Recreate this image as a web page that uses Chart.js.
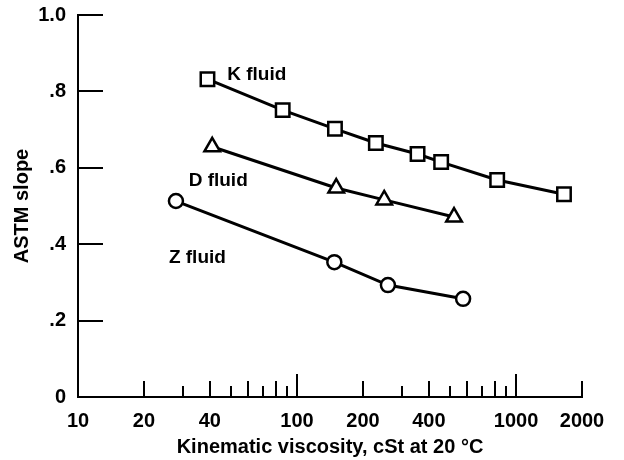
<!DOCTYPE html>
<html>
<head>
<meta charset="utf-8">
<script src="https://cdn.jsdelivr.net/npm/chart.js@4/dist/chart.umd.min.js"></script>
<style>
html,body{margin:0;padding:0;background:#fff;}
canvas{display:block;}
</style>
</head>
<body>
<canvas id="astmChart" width="624" height="460"></canvas>
<script>
var kViscosity=[39,86,149,229,355,455,820,1655];
var kSlope=[0.832,0.751,0.702,0.665,0.636,0.615,0.568,0.531];
var dViscosity=[41,151,250,521];
var dSlope=[0.655,0.547,0.516,0.471];
var zViscosity=[28,148,260,573];
var zSlope=[0.513,0.353,0.293,0.257];

var xTickLabels=[10,20,40,100,200,400,1000,2000];
var xTickMarks=[20,30,40,50,60,70,80,90,100,200,300,400,500,600,700,800,900,1000,2000];
var yTickLabels=[0,0.2,0.4,0.6,0.8,1.0];

var fluidNames=['K fluid','D fluid','Z fluid'];
var fluidNameAt=[[48,0.830],[32,0.552],[26,0.351]];

var fontFamily="'Liberation Sans', Arial, Helvetica, sans-serif";
Chart.defaults.font.family=fontFamily;
Chart.defaults.color='#000';

function fnPoints(xs,ys){
	var pts=[];
	for(var i=0;i<xs.length;i++){
		pts.push({x:xs[i],y:ys[i]});
	}
	return pts;
}

function fnSeries(label,xs,ys,style,radius){
	return {
		label:label,
		data:fnPoints(xs,ys),
		borderColor:'#000',
		borderWidth:3,
		pointStyle:style,
		pointRadius:radius,
		pointBackgroundColor:'#fff',
		pointBorderColor:'#000',
		pointBorderWidth:2.5,
		tension:0,
		clip:false
	};
}

//inside tick marks + curve labels
var paperTicks={
	id:'paperTicks',
	afterDraw:function(chart){
		var ctx=chart.ctx;
		var xs=chart.scales.x, ys=chart.scales.y;
		var bottom=chart.chartArea.bottom, left=chart.chartArea.left;
		ctx.save();
		ctx.strokeStyle='#000';
		ctx.lineWidth=2;
		ctx.beginPath();
		for(var i=0;i<xTickMarks.length;i++){
			var v=xTickMarks[i];
			var m=v/Math.pow(10,Math.floor(Math.log10(v)+1e-9));
			var len=Math.abs(m-1)<1e-6 ? 23 : (Math.round(m)%2==0 ? 16 : 11);
			var px=Math.round(xs.getPixelForValue(v));
			ctx.moveTo(px,bottom);
			ctx.lineTo(px,bottom-len);
		}
		for(var j=1;j<yTickLabels.length;j++){
			var py=Math.round(ys.getPixelForValue(yTickLabels[j]));
			ctx.moveTo(left,py);
			ctx.lineTo(left+25,py);
		}
		ctx.stroke();
		ctx.fillStyle='#000';
		ctx.font='bold 19px '+fontFamily;
		ctx.textAlign='left';
		ctx.textBaseline='alphabetic';
		for(var k=0;k<fluidNames.length;k++){
			ctx.fillText(fluidNames[k],xs.getPixelForValue(fluidNameAt[k][0]),ys.getPixelForValue(fluidNameAt[k][1]));
		}
		ctx.restore();
	}
};

var ctx=document.getElementById('astmChart').getContext('2d');
var astmChart=new Chart(ctx,{
	type:'line',
	data:{
		datasets:[
			fnSeries('K fluid',kViscosity,kSlope,'rect',9.5),
			fnSeries('D fluid',dViscosity,dSlope,'triangle',9),
			fnSeries('Z fluid',zViscosity,zSlope,'circle',7)
		]
	},
	options:{
		responsive:false,
		devicePixelRatio:1,
		animation:false,
		layout:{padding:{top:15,right:42,left:0,bottom:0}},
		plugins:{legend:{display:false},tooltip:{enabled:false}},
		scales:{
			x:{
				type:'logarithmic',
				min:10,
				max:2000,
				afterBuildTicks:function(scale){
					scale.ticks=xTickLabels.map(function(v){return {value:v};});
				},
				afterFit:function(scale){
					scale.height=63;
					scale.paddingLeft=0;
					scale.paddingRight=0;
				},
				ticks:{
					autoSkip:false,
					maxRotation:0,
					padding:12,
					font:{size:20,weight:'bold'},
					callback:function(v){return String(v);}
				},
				grid:{display:false,drawTicks:false},
				border:{display:true,color:'#000',width:2},
				title:{
					display:true,
					text:'Kinematic viscosity, cSt at 20 °C',
					font:{size:20,weight:'bold'},
					padding:{top:0,bottom:1}
				}
			},
			y:{
				min:0,
				max:1,
				afterBuildTicks:function(scale){
					scale.ticks=yTickLabels.map(function(v){return {value:v};});
				},
				afterFit:function(scale){
					scale.width=78;
					scale.paddingTop=0;
					scale.paddingBottom=0;
				},
				ticks:{
					padding:12,
					font:{size:20,weight:'bold'},
					callback:function(v){
						if(v==0) return '0';
						if(v==1) return '1.0';
						return v.toFixed(1).replace(/^0/,'');
					}
				},
				grid:{display:false,drawTicks:false},
				border:{display:true,color:'#000',width:2},
				title:{
					display:true,
					text:'ASTM slope',
					font:{size:20,weight:'bold'},
					padding:{top:10,bottom:0}
				}
			}
		}
	},
	plugins:[paperTicks]
});
</script>
</body>
</html>
